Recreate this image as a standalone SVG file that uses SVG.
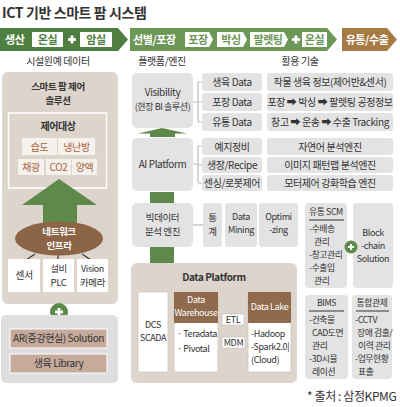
<svg xmlns="http://www.w3.org/2000/svg" width="400" height="407" viewBox="0 0 400 407">
<style>
text{font-family:"Noto Sans CJK KR","Noto Sans",sans-serif;fill:#333;letter-spacing:-0.4px}
.c{text-anchor:middle}
.b{font-weight:bold}
.w{fill:#fff}
.g{fill:#4f7f40}
.s8{font-size:8.8px}
.s9{font-size:9px}
.s95{font-size:9.5px}
.s10{font-size:10px}
.s11{font-size:11px}
.box{fill:#e3e3e3}
.wb{fill:#fff;stroke:#d0c6bd;stroke-width:0.8}
.cell{fill:#f5f1ed}
.ctxt{fill:#a8643e;font-size:10px}
.con{stroke:#bdbdbd;stroke-width:1.2;fill:none}
.dk{stroke:#333;stroke-width:1.2;fill:none}
</style>
<defs>
<marker id="ah" markerWidth="6" markerHeight="6" refX="5" refY="3" orient="auto" markerUnits="userSpaceOnUse">
<path d="M0,0 L6,3 L0,6 z" fill="#222"/>
</marker>
<g id="plus"><rect x="-4" y="-1.4" width="8" height="2.8" fill="#fff"/><rect x="-1.4" y="-4" width="2.8" height="8" fill="#fff"/></g>
</defs>
<rect width="400" height="407" fill="#fff"/>
<text x="2" y="18" style="font-size:14px;font-weight:bold;fill:#333">ICT 기반 스마트 팜 시스템</text>

<g id="banner">
<polygon points="0,28 118,28 128,39.5 118,51 0,51" fill="#4f7f40"/>
<text x="5" y="44" class="s11 b w">생산</text>
<rect x="32" y="32" width="31" height="15" fill="#fff"/>
<text x="47.5" y="44" class="s11 b c g">온실</text>
<use href="#plus" x="72" y="39.5"/>
<rect x="80" y="32" width="32" height="15" fill="#fff"/>
<text x="96" y="44" class="s11 b c g">암실</text>

<polygon points="130,28 327,28 337,39.5 327,51 130,51" fill="#6b9757"/>
<text x="133" y="44" class="s11 b w">선별/포장</text>
<polygon points="185,32 209,32 213,39.5 209,47 185,47" fill="#fff"/>
<text x="198" y="44" class="s11 b c" style="fill:#6b9757">포장</text>
<polygon points="217,32 243,32 247,39.5 243,47 217,47" fill="#fff"/>
<text x="231" y="44" class="s11 b c" style="fill:#6b9757">박싱</text>
<polygon points="250,32 284,32 288,39.5 284,47 250,47" fill="#fff"/>
<text x="268" y="44" class="s11 b c" style="fill:#6b9757">팔렛팅</text>
<use href="#plus" x="296" y="39.5"/>
<rect x="302" y="32" width="25" height="15" fill="#fff"/>
<text x="314.5" y="44" class="s11 b c" style="fill:#6b9757">온실</text>

<polygon points="342,28 387,28 397,39.5 387,51 342,51" fill="#a87a43"/>
<text x="367" y="44" class="s11 b c w">유통/수출</text>
</g>

<text x="58" y="65" class="s10 c">시설원예 데이터</text>
<text x="162" y="65" class="s10 c">플랫폼/엔진</text>
<text x="300" y="65" class="s10 c">활용 기술</text>

<g id="left-panel">
<rect x="2" y="72" width="116" height="232" rx="6" fill="#ddd4cc"/>
<text x="58" y="90" class="s95 b c">스마트 팜 제어</text>
<text x="58" y="104" class="s95 b c">솔루션</text>
<rect x="8.5" y="113" width="98" height="75" fill="none" stroke="#fff" stroke-width="1.5"/>
<text x="58" y="130" class="s10 b c">제어대상</text>
<rect x="22" y="138" width="35" height="17" class="cell"/>
<text x="39.5" y="150.5" class="ctxt c">습도</text>
<rect x="58" y="138" width="37" height="17" class="cell"/>
<text x="76.5" y="150.5" class="ctxt c">냉난방</text>
<rect x="18" y="159" width="26" height="16" class="cell"/>
<text x="31" y="171" class="ctxt c">채광</text>
<rect x="46" y="159" width="25" height="16" class="cell"/>
<text x="58.5" y="171" class="ctxt c">CO2</text>
<rect x="72" y="159" width="25" height="16" class="cell"/>
<text x="84.5" y="171" class="ctxt c">양액</text>
</g>

<g id="up-arrow">
<polygon points="59,179 97,205 77,205 77,223 43,223 43,205 22,205" fill="#5d8a4a"/>
</g>

<g id="network">
<ellipse cx="59" cy="238.5" rx="44" ry="17" fill="#8c6446"/>
<text x="59" y="235" class="s95 b c w">네트워크</text>
<text x="59" y="249" class="s95 b c w">인프라</text>
</g>

<g id="connectors">
<line x1="35" y1="254" x2="26" y2="260" class="dk"/>
<line x1="58" y1="255.5" x2="58" y2="260" class="dk"/>
<line x1="82" y1="254" x2="91" y2="260" class="dk"/>
<path d="M193,102 H198 M198,82 V122 M198,82 H202 M198,102 H202 M198,122 H202" class="con"/>
<path d="M193,164 H198 M198,146 V183 M198,146 H202 M198,165 H202 M198,183 H202" class="con"/>
<line x1="193" y1="225" x2="203" y2="225" class="con"/>
<line x1="168" y1="327" x2="174" y2="327" class="dk" marker-end="url(#ah)"/>
<line x1="218" y1="331" x2="247" y2="331" stroke="#222" stroke-width="1.6" marker-end="url(#ah)"/>
</g>

<g id="sensors">
<rect x="8" y="259" width="32" height="33" fill="#fff"/>
<text x="24" y="279" class="s10 c">센서</text>
<rect x="43" y="259" width="31" height="33" fill="#fff"/>
<text x="58.5" y="272" class="s95 c">설비</text>
<text x="58.5" y="286" class="s95 c">PLC</text>
<rect x="77" y="259" width="31" height="33" fill="#fff"/>
<text x="92.5" y="272" class="s9 c">Vision</text>
<text x="92.5" y="286" class="s95 c">카메라</text>
</g>

<g id="plus-left">
<circle cx="59" cy="312" r="9" fill="#5d8a4a"/>
<use href="#plus" x="59" y="312"/>
</g>

<g id="library-panel">
<rect x="1" y="315" width="117" height="68" rx="5" fill="#dedede"/>
<rect x="10" y="329" width="97" height="19" fill="#c6aa9b" stroke="#fff" stroke-width="1"/>
<text x="58.5" y="342" class="s10 c">AR(증강현실) Solution</text>
<rect x="10" y="354" width="97" height="19" fill="#c6aa9b" stroke="#fff" stroke-width="1"/>
<text x="58.5" y="367" class="s10 c">생육 Library</text>
</g>

<g id="visibility">
<rect x="132" y="73" width="61" height="55" rx="5" class="box"/>
<text x="162.5" y="96" class="s10 c">Visibility</text>
<text x="162.5" y="110" class="s9 c">(현장 BI 솔루션)</text>
</g>
<g id="vis-data">
<rect x="202" y="73" width="60" height="18" rx="3" class="box"/>
<text x="232" y="86" class="s10 c">생육 Data</text>
<rect x="202" y="93" width="60" height="18" rx="3" class="box"/>
<text x="232" y="106" class="s10 c">포장 Data</text>
<rect x="202" y="113" width="60" height="18" rx="3" class="box"/>
<text x="232" y="126" class="s10 c">유통 Data</text>
</g>
<g id="vis-use">
<rect x="267" y="73" width="126" height="18" rx="3" class="box"/>
<text x="330" y="86" class="s10 c">작물 생육 정보(제어반&amp;센서)</text>
<rect x="267" y="93" width="126" height="18" rx="3" class="box"/>
<text x="330" y="106" class="s10 c">포장 ➡ 박싱 ➡ 팔렛팅 공정정보</text>
<rect x="267" y="113" width="126" height="18" rx="3" class="box"/>
<text x="330" y="126" class="s10 c">창고 ➡ 운송 ➡ 수출 Tracking</text>
</g>

<g id="arrow-vis">
<polygon points="162,128 187,133.5 175,133.5 175,137 150,137 150,133.5 138,133.5" fill="#5d8a4a"/>
</g>

<g id="ai-platform">
<rect x="132" y="138" width="61" height="53" rx="5" class="box"/>
<text x="162.5" y="168" class="s10 c">AI Platform</text>
</g>
<g id="ai-items">
<rect x="202" y="138" width="60" height="17" rx="3" class="box"/>
<text x="232" y="150.5" class="s10 c">예지정비</text>
<rect x="202" y="157" width="60" height="16" rx="3" class="box"/>
<text x="232" y="169" class="s10 c">생장/Recipe</text>
<rect x="202" y="175" width="60" height="16" rx="3" class="box"/>
<text x="232" y="187" class="s10 c">센싱/로봇제어</text>
</g>
<g id="ai-use">
<rect x="267" y="138" width="126" height="17" rx="3" class="box"/>
<text x="330" y="150.5" class="s10 c">자연어 분석엔진</text>
<rect x="267" y="157" width="126" height="16" rx="3" class="box"/>
<text x="330" y="169" class="s10 c">이미지 패턴맵 분석엔진</text>
<rect x="267" y="175" width="126" height="16" rx="3" class="box"/>
<text x="330" y="187" class="s10 c">모터제어 강화학습 엔진</text>
</g>

<rect x="150" y="192" width="24" height="11" fill="#5d8a4a"/>

<g id="bigdata">
<rect x="132" y="203" width="61" height="44" rx="5" class="box"/>
<text x="162.5" y="221" class="s95 c">빅데이터</text>
<text x="162.5" y="235" class="s95 c">분석 엔진</text>
</g>
<g id="stats">
<rect x="203" y="203" width="19" height="44" rx="3" class="box"/>
<text x="212.5" y="221" class="s95 c">통</text>
<text x="212.5" y="235" class="s95 c">계</text>
</g>
<g id="mining">
<rect x="225" y="203" width="32" height="44" rx="3" class="box"/>
<text x="241" y="220" class="s9 c">Data</text>
<text x="241" y="233" class="s9 c">Mining</text>
</g>
<g id="optimizing">
<rect x="259" y="203" width="39" height="44" rx="3" class="box"/>
<text x="278.5" y="220" class="s9 c">Optimi</text>
<text x="278.5" y="233" class="s9 c">-zing</text>
</g>

<rect x="150" y="247" width="24" height="16" fill="#5d8a4a"/>

<g id="scm">
<rect x="305" y="203" width="42" height="85" rx="4" class="box"/>
<text x="326" y="215" class="s8 c">유통 SCM</text>
<line x1="309" y1="220" x2="344" y2="220" stroke="#333" stroke-width="1"/>
<text x="309" y="232" class="s8">-수배송</text>
<text x="314" y="245" class="s8">관리</text>
<text x="309" y="258" class="s8">-창고관리</text>
<text x="309" y="271" class="s8">-수출입</text>
<text x="314" y="284" class="s8">관리</text>
</g>
<g id="blockchain">
<rect x="353" y="203" width="40" height="85" rx="4" class="box"/>
<text x="373" y="236" class="s9 c">Block</text>
<text x="373" y="249" class="s9 c">-chain</text>
<text x="373" y="262" class="s9 c">Solution</text>
</g>
<g id="plus-scm">
<circle cx="351" cy="247" r="6.5" fill="#5d8a4a"/>
<rect x="348" y="246" width="6" height="2" fill="#fff"/>
<rect x="350" y="244" width="2" height="6" fill="#fff"/>
</g>

<g id="data-platform">
<rect x="131" y="263" width="166" height="120" rx="6" fill="#ddd4cc"/>
<text x="214" y="281" class="s10 b c">Data Platform</text>
</g>
<g id="dcs">
<rect x="138" y="292" width="30" height="80" class="wb"/>
<text x="153" y="328" class="s9 c">DCS</text>
<text x="153" y="341" class="s9 c">SCADA</text>
</g>
<g id="warehouse">
<rect x="174" y="292" width="44" height="80" class="wb"/>
<rect x="174" y="292" width="44" height="31" fill="#8f6a4d"/>
<text x="196" y="303" class="s9 c w">Data</text>
<text x="196" y="316" class="s9 c w">Warehouse</text>
<text x="177" y="337" class="s9">· Teradata</text>
<text x="177" y="352" class="s9">· Pivotal</text>
</g>
<g id="etl">
<rect x="222" y="314" width="22" height="11" fill="#fff" stroke="#bbb" stroke-width="0.6"/>
<text x="233" y="323" class="s9 c">ETL</text>
</g>
<g id="mdm">
<rect x="222" y="337" width="23" height="11" fill="#fff" stroke="#bbb" stroke-width="0.6"/>
<text x="233.5" y="346" class="s9 c">MDM</text>
</g>
<g id="datalake">
<rect x="248" y="292" width="43" height="80" class="wb"/>
<rect x="248" y="292" width="43" height="31" fill="#8f6a4d"/>
<text x="269.5" y="310" class="s9 c w">Data Lake</text>
<text x="251" y="337" class="s9">-Hadoop</text>
<text x="251" y="350" class="s9">-Spark2.0|</text>
<text x="251" y="363" class="s9">(Cloud)</text>
</g>

<g id="bims">
<rect x="305" y="295" width="43" height="84" rx="4" class="box"/>
<text x="326.5" y="306" class="s8 c">BIMS</text>
<line x1="309" y1="311" x2="344" y2="311" stroke="#333" stroke-width="1"/>
<text x="309" y="323" class="s8">-건축물</text>
<text x="312" y="336" class="s8">CAD도면</text>
<text x="312" y="349" class="s8">관리</text>
<text x="309" y="362" class="s8">-3D시뮬</text>
<text x="312" y="375" class="s8">레이션</text>
</g>
<g id="control">
<rect x="352" y="295" width="40" height="84" rx="4" class="box"/>
<text x="372" y="306" class="s8 c">통합관제</text>
<line x1="356" y1="311" x2="389" y2="311" stroke="#333" stroke-width="1"/>
<text x="355" y="323" class="s8">-CCTV</text>
<text x="357" y="336" class="s8">장애 검출/</text>
<text x="358" y="349" class="s8">이력 관리</text>
<text x="355" y="362" class="s8">-업무현황</text>
<text x="358" y="375" class="s8">표출</text>
</g>

<text x="307" y="401" style="font-size:12px">* 출처 : 삼정KPMG</text>
</svg>
